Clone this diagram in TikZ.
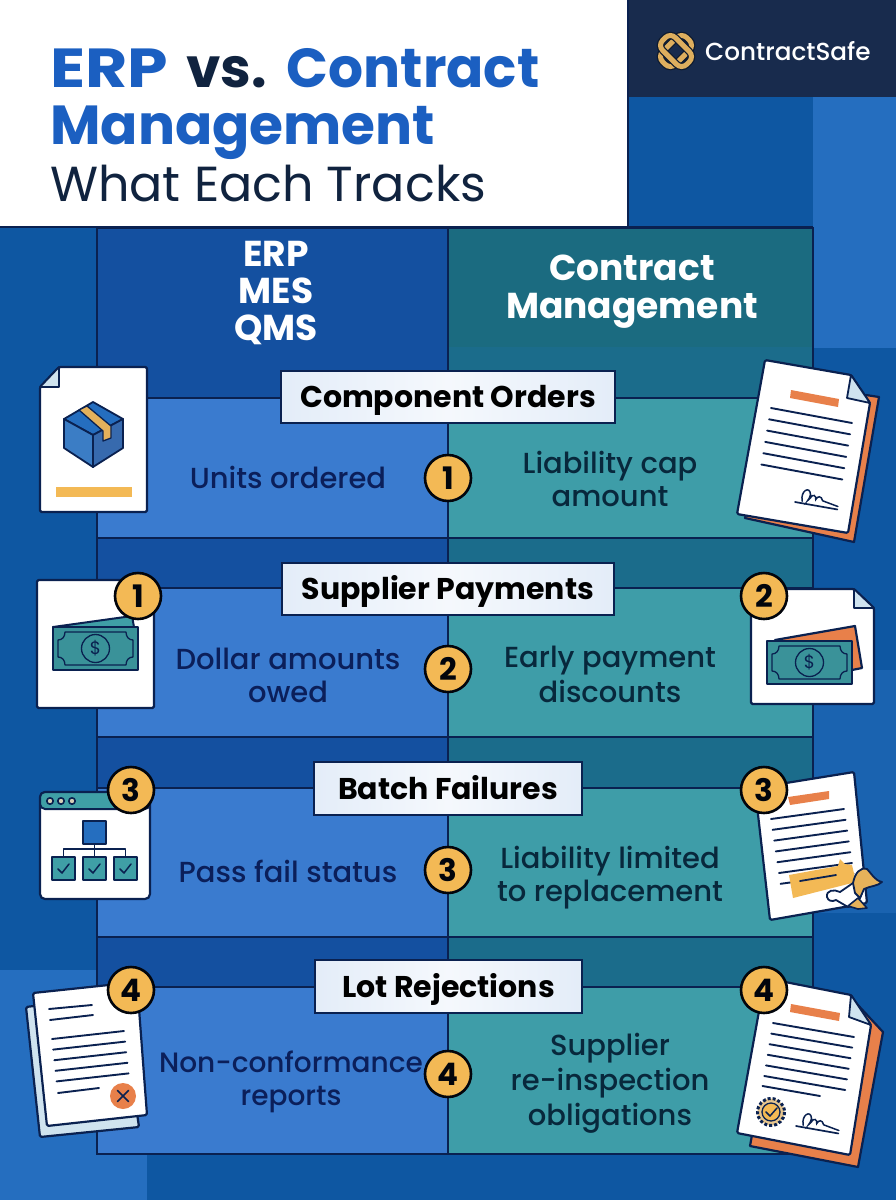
\documentclass[tikz,border=0pt]{standalone}
\usepackage{graphicx}
\usepackage{fontspec}
\setmainfont{Poppins}
\newfontfamily\medfont{Poppins Medium}
\usetikzlibrary{shadings}
\definecolor{ink}{HTML}{0A2150}
\definecolor{bgA}{HTML}{0E57A2}
\definecolor{bgB}{HTML}{256EBF}
\definecolor{bgC}{HTML}{1A63B0}
\definecolor{navy}{HTML}{182B4D}
\definecolor{bandL}{HTML}{1450A0}
\definecolor{bandR}{HTML}{1B6C8B}
\definecolor{headR}{HTML}{1B6B80}
\definecolor{cellL}{HTML}{3A7BCF}
\definecolor{cellR}{HTML}{3E9DA8}
\definecolor{titleblue}{HTML}{1B5FC1}
\definecolor{titleink}{HTML}{10233F}
\definecolor{bodyink}{HTML}{0B1F5A}
\definecolor{bodydeep}{HTML}{08283C}
\definecolor{gold}{HTML}{F3B955}
\definecolor{orange}{HTML}{E8804A}
\definecolor{paleblue}{HTML}{CFE3EF}
\definecolor{teal}{HTML}{3F9FA6}
\definecolor{tan}{HTML}{DDAE5E}
\newcommand{\fs}[1]{\fontsize{#1}{#1}\selectfont}
\tikzset{
  x=1pt,y=-1pt,
  rule/.style={draw=ink,line width=2.4pt},
  sheet/.style={draw=ink,line width=2.2pt,fill=white,rounded corners=1.5pt,line join=round},
  fold/.style={draw=ink,line width=1.8pt,fill=paleblue,line join=round},
  backorange/.style={draw=ink,line width=2.2pt,fill=orange,line join=round},
  docline/.style={draw=ink,line width=1.9pt,line cap=round},
  iconline/.style={draw=ink,line width=1.6pt,line join=round},
  pill/.style={draw=ink,line width=2.2pt,left color=white!86!cellL,right color=white!86!cellL,middle color=white!95!cellL,inner sep=0pt,text height=21pt,text depth=0pt,font=\bfseries\fs{30},text=black},
  badge/.style={circle,draw=black!85!ink,line width=2.6pt,fill=gold,minimum size=46pt,inner sep=0pt,font=\bfseries\fs{31},text=black!85!ink},
  bodyL/.style={anchor=base,align=center,text=bodyink,font=\medfont\fs{29}},
  bodyR/.style={anchor=base,align=center,text=bodydeep,font=\medfont\fs{29}},
  head/.style={anchor=base,align=center,text=white,font=\bfseries\fs{36}},
  ttl/.style={anchor=base west,inner sep=0pt,font=\bfseries\fs{55}},
}
\newcommand{\billicon}[3]{% x y fill colour
  \begin{scope}[shift={(#1,#2)}]
    \draw[iconline,line width=2pt,fill=#3!92!black] (0,0) rectangle (85,43);
    \draw[iconline,line width=1.3pt] (12,5) -- (73,5) .. controls (73,10) and (76,13) .. (80,13) -- (80,30) .. controls (76,30) and (73,33) .. (73,38) -- (12,38) .. controls (12,33) and (9,30) .. (5,30) -- (5,13) .. controls (9,13) and (12,10) .. (12,5) -- cycle;
    \node[circle,draw=ink,line width=1.3pt,minimum size=28pt,inner sep=0pt,font=\fs{18},text=ink] (bill#1) at (42.5,21.5) {\$};
  \end{scope}}
\newcommand{\signmark}[4]{% x y rotate length
  \begin{scope}[shift={(#1,#2)},rotate=#3]
    \draw[draw=ink,line width=1.7pt,line cap=round] (0,0) -- (#4,0);
    \draw[draw=ink,line width=1.5pt,line cap=round] (7,-2) .. controls (3,-12) and (12,-19) .. (14,-10) .. controls (14,-5) and (10,-1) .. (14,-6) .. controls (16,-12) and (20,-10) .. (20,-6) .. controls (21,-10) and (25,-11) .. (27,-6) -- (#4,-3);
  \end{scope}}
\newcommand{\ticked}[2]{%
  \draw[iconline,line width=1.8pt,fill=teal] (#1,#2) rectangle ++(23,23);
  \draw[draw=ink,line width=1.5pt,line cap=round,line join=round] (#1+6,#2+12) -- (#1+10,#2+16) -- (#1+17,#2+7);}
\begin{document}
\begin{tikzpicture}
\useasboundingbox (0,0) rectangle (896,1200);
% background
\fill[bgA] (0,0) rectangle (896,1200);
\fill[bgB] (813,97) rectangle (896,348);
\fill[bgC] (813,670) rectangle (896,913);
\fill[bgB] (0,970) rectangle (97,1200);
\fill[bgB] (97,1155) rectangle (147,1200);
% title panel and logo panel
\fill[navy] (628,0) rectangle (896,97);
\fill[white] (0,0) rectangle (628,226);
\draw[draw=ink,line width=2pt] (628,0) -- (628,227) (0,227) -- (813,227);
% table fills
\fill[bandL] (97,228) rectangle (448,1154);
\fill[bandR] (448,347) rectangle (813,1154);
\fill[headR] (448,228) rectangle (813,347);
\foreach \a/\b in {398/538,588/737,788/937,987/1154}{
  \fill[cellL] (97,\a) rectangle (448,\b);
  \fill[cellR] (448,\a) rectangle (813,\b);
}
\draw[rule] (97,228) rectangle (813,1154);
\draw[rule] (448,228) -- (448,1154);
\foreach \h in {398,538,588,737,788,937,987}{\draw[rule] (97,\h) -- (813,\h);}
% title
\node[ttl] (t1) at (50,87) {\textcolor{titleblue}{\scalebox{1.18}[1]{ERP}}\hspace{18pt}\textcolor{titleink}{vs.}\hspace{20pt}\textcolor{titleblue}{Contract}};
\node[ttl,text=titleblue] (t2) at (50,144) {Management};
\node[ttl,font=\fs{49.2},text=titleink] (t3) at (50,201) {What Each Tracks};
% logo
\begin{scope}[shift={(676,51)}]
  \foreach \r in {45,-45}{
    \draw[draw=navy!60!black,line width=7.5pt,rounded corners=7pt,rotate=\r] (-17,-9) rectangle (17,9);
    \draw[draw=tan,line width=5pt,rounded corners=7pt,rotate=\r] (-17,-9) rectangle (17,9);
  }
\end{scope}
\node[anchor=base west,inner sep=0pt,text=white,font=\medfont\fs{24.7}] (logo) at (705,60) {ContractSafe};
% column heads
\node[head] (hL) at (276,340) {ERP\\[1pt]MES\\[1pt]QMS};
\node[head] (hR) at (632,318) {Contract\\[2pt]Management};
% icon 1 left : box on a sheet
\draw[sheet] (59,367) -- (147,367) -- (147,512) -- (40,512) -- (40,387) -- cycle;
\draw[fold] (59,367) -- (59,387) -- (40,387) -- cycle;
\draw[iconline,line width=1.8pt,fill=bgB] (93,402) -- (123,419) -- (93,435) -- (64,419) -- cycle;
\draw[iconline,line width=1.8pt,fill=bgB!90!white] (64,419) -- (93,435) -- (93,467) -- (64,448) -- cycle;
\draw[iconline,line width=1.8pt,fill=bandL!85!white] (123,419) -- (93,435) -- (93,467) -- (123,448) -- cycle;
\draw[iconline,line width=1.3pt,fill=tan!70!gold] (79,410) -- (87,406) -- (111,426) -- (111,438) -- (103,441) -- (103,431) -- cycle;
\fill[gold] (56,487) rectangle (132,497);
% icon 1 right : contract
\draw[backorange] (866,395) -- (879,397) -- (854,542) -- (745,518) -- (747,510) -- cycle;
\draw[sheet] (765,360) -- (851,375) -- (870,403) -- (848,533) -- (737,514) -- cycle;
\draw[fold] (851,375) -- (870,403) -- (847,398) -- cycle;
\fill[orange] (791,390) -- (839,399) -- (838,407) -- (790,398) -- cycle;
\foreach \i in {0,...,5}{\draw[docline] (771-1.93*\i,408+11.3*\i) -- (852-1.93*\i,423+11.3*\i);}
\signmark{795}{502}{-10}{43}
% icon 2 left : money
\draw[sheet] (37,580) rectangle (154,708);
\draw[iconline,line width=2pt,fill=teal] (53,627) -- (132,616) -- (134,627) -- cycle;
\billicon{53}{627}{teal}
% icon 2 right : money
\draw[sheet] (854,589) -- (874,608) -- (874,704) -- (751,704) -- (751,589) -- cycle;
\draw[fold] (854,589) -- (854,608) -- (874,608) -- cycle;
\draw[backorange] (775,640) -- (855,626) -- (862,668) -- (852,670) -- cycle;
\billicon{767}{641}{teal}
% icon 3 left : window
\draw[sheet,rounded corners=5pt] (40,792) rectangle (150,899);
\draw[iconline,line width=2pt,fill=teal,rounded corners=5pt] (40,809) -- (40,792) -- (150,792) -- (150,809) -- cycle;
\foreach \d in {50,61,72}{\draw[iconline,fill=paleblue!60!tan] (\d,801) circle (3.2);}
\draw[iconline,line width=1.8pt,fill=bgB] (83,821) rectangle (106,844);
\draw[iconline,line width=1.3pt] (94.5,844) -- (94.5,857) (63.5,857) -- (63.5,849) -- (125.5,849) -- (125.5,857);
\ticked{52}{857}\ticked{83}{857}\ticked{114}{857}
% icon 3 right : contract with yellow note
\draw[sheet] (755,788) -- (854,772) -- (867,903) -- (770,920) -- cycle;
\fill[orange] (788,797) -- (829,791) -- (829,799) -- (790,805) -- cycle;
\foreach \i in {0,...,6}{\draw[docline] (771+1.6*\i,819+10.8*\i) -- (844+1.6*\i,809+10.8*\i);}
\fill[gold] (789,875) -- (838,866) -- (840,859) -- (845,864) -- (852,865) -- (856,882) -- (793,898) -- cycle;
\draw[draw=ink,line width=1.8pt,line cap=round] (800,881) -- (836,875);
\draw[iconline,line width=1.8pt,fill=white] (827,897) .. controls (826,890) and (834,889) .. (840,892) -- (853,883) -- (862,893) -- (857,905) -- (848,907) -- (836,900) .. controls (832,902) and (828,901) .. (827,897) -- cycle;
\draw[iconline,line width=1.8pt,fill=tan!60!gold] (853,883) .. controls (855,873) and (860,867) .. (867,869) .. controls (872,874) and (874,880) .. (882,882) .. controls (878,886) and (870,886) .. (864,889) -- (860,898) -- (855,893) -- cycle;
\draw[iconline,line width=1.6pt,fill=tan!60!gold] (848,906) -- (858,898) -- (867,908) -- (858,909) -- cycle;
% icon 4 left : reports
\draw[sheet,fill=paleblue] (26,1007) -- (120,995) -- (139,1127) -- (40,1137) -- cycle;
\draw[sheet] (33,993) -- (137,982) -- (147,1115) -- (47,1126) -- cycle;
\draw[docline] (49,1009) -- (92,1005) (50,1020) -- (93,1015);
\foreach \i in {0,...,4}{\draw[docline] (52+1.15*\i,1039-0+10.6*\i) -- (124+1.15*\i,1031+10.6*\i);}
\draw[docline] (58,1093) -- (99,1088);
\node[circle,fill=orange,minimum size=26pt,inner sep=0pt] (xm) at (123,1096) {};
\draw[draw=ink,line width=1.5pt,line cap=round] (117.5,1090.5) -- (128.5,1101.5) (128.5,1090.5) -- (117.5,1101.5);
% icon 4 right : certified contract
\draw[backorange] (856,1003) -- (883,1032) -- (858,1167) -- (750,1146) -- (752,1135) -- cycle;
\draw[sheet] (765,978) -- (851,995) -- (871,1025) -- (850,1155) -- (737,1133) -- cycle;
\draw[fold] (851,995) -- (871,1025) -- (849,1017) -- cycle;
\fill[orange] (791,1004) -- (840,1013) -- (839,1021) -- (790,1012) -- cycle;
\foreach \i in {0,...,5}{\draw[docline] (773-1.75*\i,1023+10.6*\i) -- (854-1.75*\i,1037+10.6*\i);}
\draw[docline] (762.5,1086) -- (820,1096);
\draw[draw=ink,line width=3pt,dotted,fill=tan!70!white] (771,1112) circle (13.5);
\draw[iconline,line width=1.3pt,fill=gold] (771,1112) circle (9);
\draw[draw=ink,line width=1.5pt,line cap=round,line join=round] (766,1112) -- (770,1116) -- (777,1108);
\signmark{796}{1126}{-10}{43}
% row pills
\node[pill,minimum width=334pt,minimum height=52pt] (p1) at (448,397) {Component Orders};
\node[pill,minimum width=332pt,minimum height=52pt] (p2) at (448,589) {Supplier Payments};
\node[pill,minimum width=268pt,minimum height=53pt] (p3) at (448,788.5) {Batch Failures};
\node[pill,minimum width=267pt,minimum height=53pt] (p4) at (448.5,986.5) {Lot Rejections};
% row texts
\node[bodyL] (a1) at (288,488) {Units ordered};
\node[bodyR] (b1) at (610,506) {Liability cap\\[4pt]amount};
\node[bodyL] (a2) at (288,702) {Dollar amounts\\[4pt]owed};
\node[bodyR] (b2) at (610,702) {Early payment\\[4pt]discounts};
\node[bodyL] (a3) at (288,882) {Pass fail status};
\node[bodyR] (b3) at (610,901) {Liability limited\\[4pt]to replacement};
\node[bodyL,font=\medfont\fs{28}] (a4) at (291,1105) {Non-conformance\\[5pt]reports};
\node[bodyR] (b4) at (610,1125) {Supplier\\[4pt]re-inspection\\[4pt]obligations};
% numbered badges
\node[badge] (n1) at (448,478) {1};
\node[badge] (n2) at (448,669) {2};
\node[badge] (n3) at (448,870) {3};
\node[badge] (n4) at (448,1074) {4};
\node[badge] (l1) at (138,596) {1};
\node[badge] (r2) at (764,596) {2};
\node[badge] (l3) at (131,790) {3};
\node[badge] (r3) at (764,790) {3};
\node[badge] (l4) at (131,990) {4};
\node[badge] (r4) at (764,990) {4};
\end{tikzpicture}
\end{document}
